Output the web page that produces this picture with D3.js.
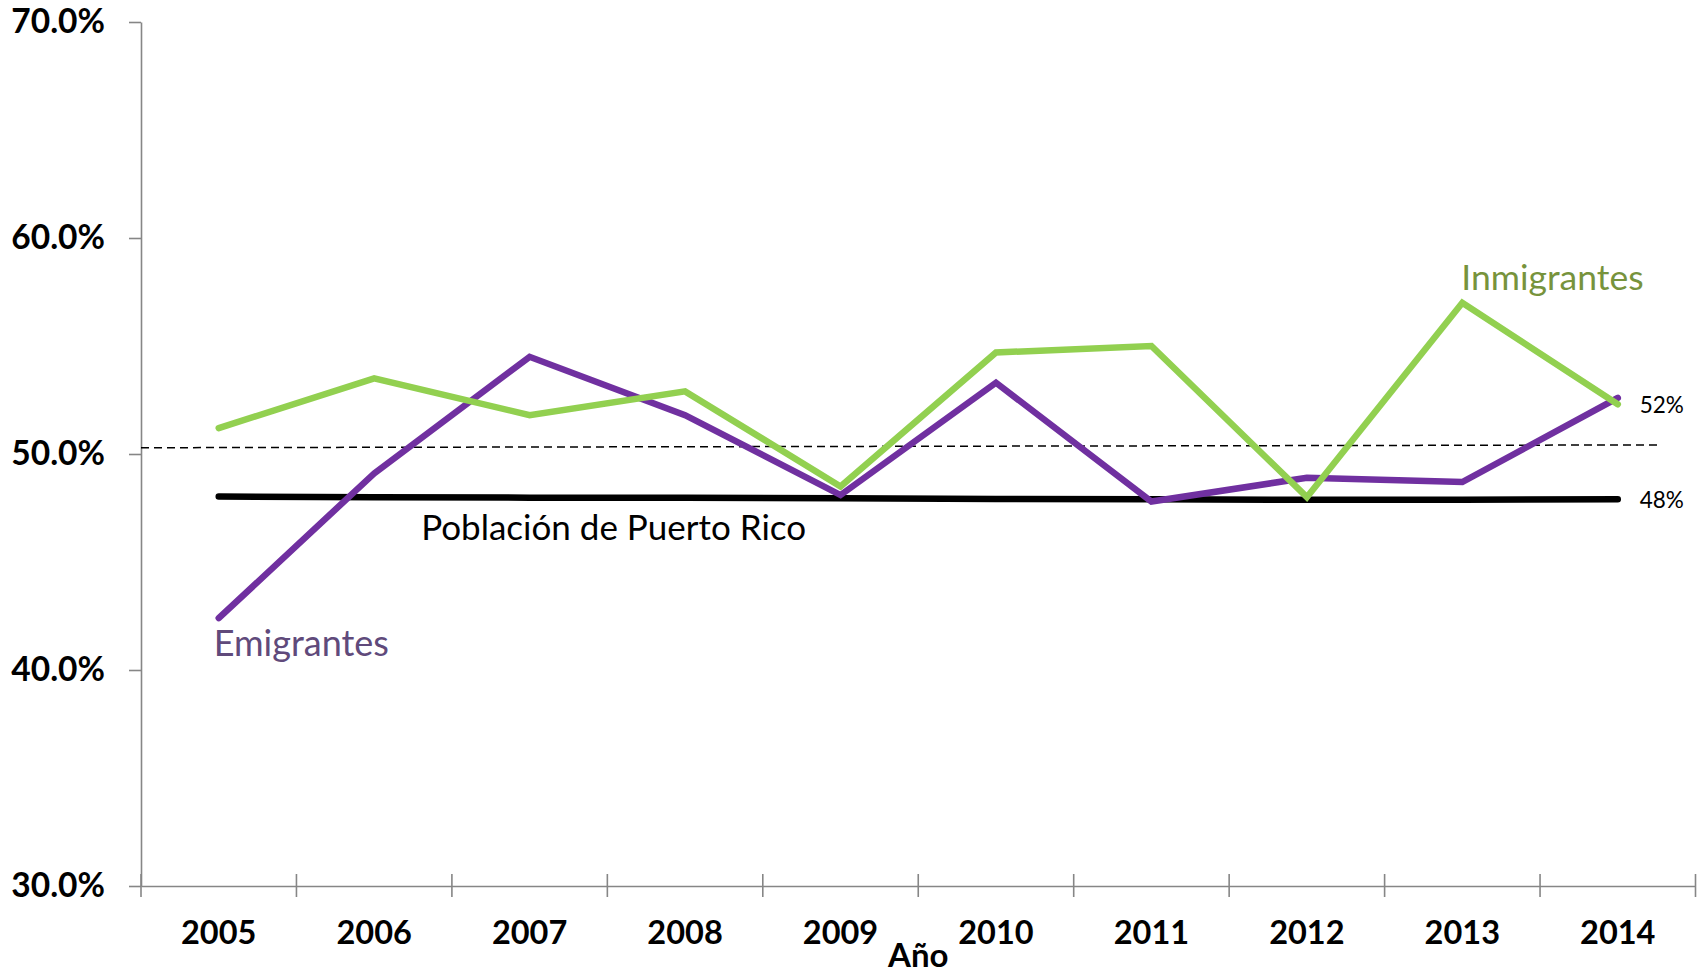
<!DOCTYPE html>
<html>
<head>
<meta charset="utf-8">
<script src="https://cdn.jsdelivr.net/npm/d3@7"></script>
<style>
  body { margin: 0; background: #fff; }
  svg { display: block; }
  .axis text { font-family: Lato, "Open Sans", sans-serif; font-weight: bold; fill: #000; }
  .lbl { font-family: Lato, "Open Sans", sans-serif; }
</style>
</head>
<body>
<script>
// data (% of each group)
var years = ['2005','2006','2007','2008','2009','2010','2011','2012','2013','2014'];
var inmigrantes = [51.2, 53.5, 51.8, 52.9, 48.5, 54.7, 55.0, 48.0, 57.0, 52.3];
var emigrantes  = [42.4, 49.1, 54.5, 51.8, 48.1, 53.3, 47.8, 48.9, 48.7, 52.6];
var puertoRico  = [48.03, 48.0, 47.98, 47.97, 47.95, 47.92, 47.9, 47.88, 47.88, 47.9];
var refLine = [50.29, 50.42];   // dashed line, left and right end
var yTicks = [30, 40, 50, 60, 70];

(function (d3) {
	'use strict';

	var width = 1700,
	    height = 973,
	    mLeft = 141, mRight = 1695.5,
	    mTop = 22, mBottom = 886;

	var svg = d3.select('body').append('svg')
	    .attr('width', width)
	    .attr('height', height);

	var x = d3.scaleBand()
	    .domain(years)
	    .range([mLeft, mRight])
	    .padding(0);

	var y = d3.scaleLinear()
	    .domain([30, 70])
	    .range([mBottom, mTop]);

	var xc = function (d) { return x(d) + x.bandwidth() / 2; };

	// y axis
	var yAxis = svg.append('g')
	    .attr('class', 'axis')
	    .attr('transform', 'translate(' + mLeft + ',0)')
	    .call(d3.axisLeft(y)
	        .tickValues(yTicks)
	        .tickFormat(function (d) { return d.toFixed(1) + '%'; })
	        .tickSize(12)
	        .tickSizeOuter(0)
	        .tickPadding(24));
	yAxis.selectAll('text').style('font-size', '33.5px');
	yAxis.selectAll('line, path').attr('stroke', '#868686').attr('stroke-width', 1.6);

	// x axis: labels in the bands, ticks on band edges
	var xAxis = svg.append('g')
	    .attr('class', 'axis')
	    .attr('transform', 'translate(0,' + mBottom + ')')
	    .call(d3.axisBottom(x).tickSize(0).tickSizeOuter(0).tickPadding(35));
	xAxis.selectAll('text').style('font-size', '32.5px');
	xAxis.select('path').attr('stroke', '#868686').attr('stroke-width', 1.6);

	var edges = d3.scaleLinear().domain([0, years.length]).range([mLeft, mRight]);
	xAxis.selectAll('line.edge')
	    .data(d3.range(years.length + 1))
	    .enter().append('line')
	    .attr('class', 'edge')
	    .attr('x1', function (d) { return edges(d); })
	    .attr('x2', function (d) { return edges(d); })
	    .attr('y1', -12)
	    .attr('y2', 11)
	    .attr('stroke', '#868686')
	    .attr('stroke-width', 1.6);

	svg.append('text')
	    .attr('x', (mLeft + mRight) / 2)
	    .attr('y', 967)
	    .attr('text-anchor', 'middle')
	    .style('font-family', 'Lato, sans-serif')
	    .style('font-weight', 'bold')
	    .style('font-size', '33px')
	    .text('Año');

	// dashed reference line
	var refEnd = xc('2014') + x.bandwidth() * 0.26;
	svg.append('line')
	    .attr('x1', mLeft)
	    .attr('x2', refEnd)
	    .attr('y1', y(refLine[0]))
	    .attr('y2', y(refLine[1]))
	    .attr('stroke', '#000')
	    .attr('stroke-width', 1.5)
	    .attr('stroke-dasharray', '8,5');

	var line = d3.line()
	    .x(function (d, i) { return xc(years[i]); })
	    .y(function (d) { return y(d); });

	var series = [
	    { vals: puertoRico, color: '#000000' },
	    { vals: emigrantes, color: '#7030A0' },
	    { vals: inmigrantes, color: '#92D050' }
	];

	svg.selectAll('path.serie')
	    .data(series)
	    .enter().append('path')
	    .attr('class', 'serie')
	    .attr('d', function (d) { return line(d.vals); })
	    .attr('fill', 'none')
	    .attr('stroke', function (d) { return d.color; })
	    .attr('stroke-width', 6.5)
	    .attr('stroke-linecap', 'round')
	    .attr('stroke-linejoin', 'miter');

	// labels
	var last = years.length - 1;

	svg.append('text').attr('class', 'lbl')
	    .attr('x', xc('2013') - 1)
	    .attr('y', y(inmigrantes[8]) - 13)
	    .style('font-size', '35.5px')
	    .attr('fill', '#77933C')
	    .text('Inmigrantes');

	svg.append('text').attr('class', 'lbl')
	    .attr('x', xc('2005') - 5)
	    .attr('y', y(emigrantes[0]) + 38)
	    .style('font-size', '36px')
	    .attr('fill', '#604A7B')
	    .text('Emigrantes');

	svg.append('text').attr('class', 'lbl')
	    .attr('x', xc('2006') + 47)
	    .attr('y', y(puertoRico[1]) + 43)
	    .style('font-size', '35px')
	    .attr('fill', '#000')
	    .text('Población de Puerto Rico');

	svg.append('text').attr('class', 'lbl')
	    .attr('x', xc(years[last]) + 22)
	    .attr('y', y(inmigrantes[last]) + 9)
	    .style('font-size', '22.5px')
	    .attr('fill', '#000')
	    .text('52%');

	svg.append('text').attr('class', 'lbl')
	    .attr('x', xc(years[last]) + 22)
	    .attr('y', y(puertoRico[last]) + 9)
	    .style('font-size', '22.5px')
	    .attr('fill', '#000')
	    .text('48%');
})(d3);
</script>
</body>
</html>
